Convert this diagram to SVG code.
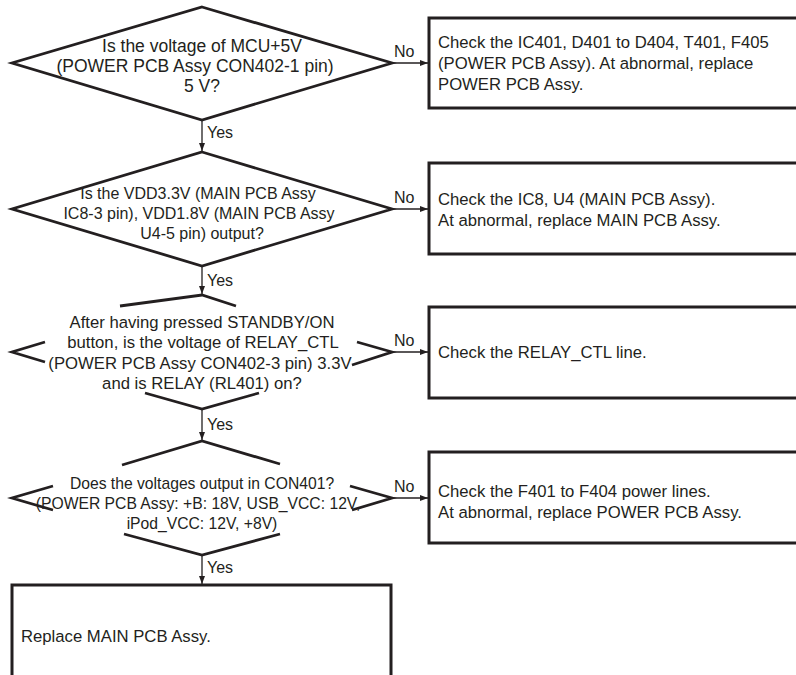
<svg xmlns="http://www.w3.org/2000/svg" width="796" height="675" viewBox="0 0 796 675">
<defs>
<marker id="ah" markerWidth="9" markerHeight="7" refX="8" refY="3" orient="auto" markerUnits="userSpaceOnUse">
<path d="M0,0 L8,3 L0,6 Z" fill="#231f20"/>
</marker>
<style>
.d{fill:none;stroke:#231f20;stroke-width:2.8;stroke-linejoin:miter}
.b{fill:#fff;stroke:#231f20;stroke-width:3}
.c{fill:none;stroke:#231f20;stroke-width:1.3}
text{font-family:"Liberation Sans",Arial,Helvetica,sans-serif;fill:#231f20;font-size:16.7px}
.m{text-anchor:middle}
.lb{font-size:16px}
</style>
</defs>
<rect width="796" height="675" fill="#fff"/>

<g id="connectors">
<path class="c" d="M392,63 H428" marker-end="url(#ah)"/>
<path class="c" d="M202,120 V151" marker-end="url(#ah)"/>
<path class="c" d="M392,209 H428" marker-end="url(#ah)"/>
<path class="c" d="M202,266 V294" marker-end="url(#ah)"/>
<path class="c" d="M392,352 H428" marker-end="url(#ah)"/>
<path class="c" d="M202,409 V440" marker-end="url(#ah)"/>
<path class="c" d="M392,498 H428" marker-end="url(#ah)"/>
<path class="c" d="M202,555 V584" marker-end="url(#ah)"/>
<text class="lb" x="394" y="57">No</text>
<text class="lb" x="207" y="138">Yes</text>
<text class="lb" x="394" y="203">No</text>
<text class="lb" x="207" y="286">Yes</text>
<text class="lb" x="394" y="346">No</text>
<text class="lb" x="207" y="430">Yes</text>
<text class="lb" x="394" y="492">No</text>
<text class="lb" x="207" y="573">Yes</text>
</g>

<g id="q1">
<polygon class="d" points="202,7 392,63 202,120 12,63"/>
<text class="m" x="202" y="52" style="font-size:17.5px">Is the voltage of MCU+5V</text>
<text class="m" x="195" y="72" style="font-size:17.5px">(POWER PCB Assy CON402-1 pin)</text>
<text class="m" x="202" y="92" style="font-size:17.5px">5 V?</text>
</g>

<g id="a1">
<rect class="b" x="429" y="18" width="380" height="90"/>
<text x="438" y="48">Check the IC401, D401 to D404, T401, F405</text>
<text x="438" y="69">(POWER PCB Assy). At abnormal, replace</text>
<text x="438" y="90">POWER PCB Assy.</text>
</g>

<g id="q2">
<polygon class="d" points="202,152 392,209 202,266 12,209"/>
<text class="m" x="198" y="199" style="font-size:16px">Is the VDD3.3V (MAIN PCB Assy</text>
<text class="m" x="199" y="219" style="font-size:16px">IC8-3 pin), VDD1.8V (MAIN PCB Assy</text>
<text class="m" x="202" y="239" style="font-size:16px">U4-5 pin) output?</text>
</g>

<g id="a2">
<rect class="b" x="429" y="163" width="380" height="91"/>
<text x="438" y="205">Check the IC8, U4 (MAIN PCB Assy).</text>
<text x="438" y="226">At abnormal, replace MAIN PCB Assy.</text>
</g>

<g id="q3">
<polyline class="d" points="120,306 202,295 236,306"/>
<polyline class="d" points="45,342 12,352 45,362"/>
<polyline class="d" points="357,342 392,352 352,365"/>
<polyline class="d" points="145,393 202,409 259,393"/>
<text class="m" x="202" y="328">After having pressed STANDBY/ON</text>
<text class="m" x="203" y="348">button, is the voltage of RELAY_CTL</text>
<text class="m" x="200" y="369">(POWER PCB Assy CON402-3 pin) 3.3V</text>
<text class="m" x="202" y="389">and is RELAY (RL401) on?</text>
</g>

<g id="a3">
<rect class="b" x="429" y="307" width="380" height="91"/>
<text x="438" y="358">Check the RELAY_CTL line.</text>
</g>

<g id="q4">
<polyline class="d" points="122,465 202,441 280,464"/>
<polyline class="d" points="53,486 12,498 53,510"/>
<polyline class="d" points="350,486 392,498 352,510"/>
<polyline class="d" points="124,534 202,555 280,534"/>
<text class="m" x="202" y="489" style="font-size:15.7px">Does the voltages output in CON401?</text>
<text class="m" x="198" y="509" style="font-size:15.7px">(POWER PCB Assy: +B: 18V, USB_VCC: 12V,</text>
<text class="m" x="202" y="529" style="font-size:15.7px">iPod_VCC: 12V, +8V)</text>
</g>

<g id="a4">
<rect class="b" x="429" y="452" width="380" height="91"/>
<text x="438" y="497">Check the F401 to F404 power lines.</text>
<text x="438" y="518">At abnormal, replace POWER PCB Assy.</text>
</g>

<g id="a5">
<rect class="b" x="12" y="585" width="379" height="100"/>
<text x="21" y="642">Replace MAIN PCB Assy.</text>
</g>
</svg>
